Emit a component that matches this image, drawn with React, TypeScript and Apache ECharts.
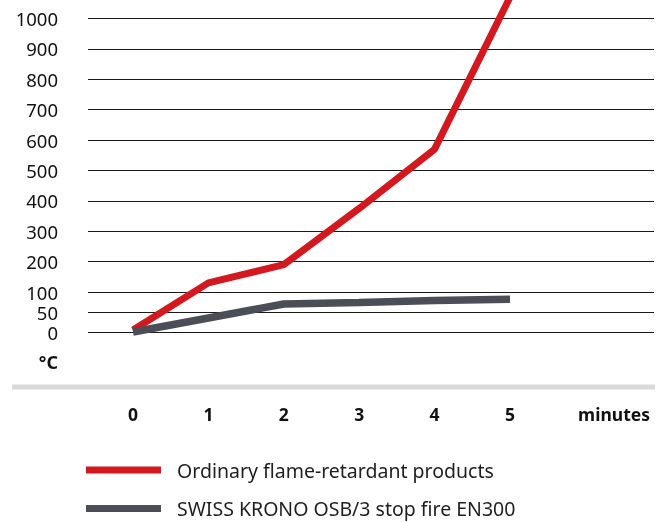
import React, { useEffect, useRef } from "react";
import * as echarts from "echarts";

const minutes = [0, 1, 2, 3, 4, 5];
const ordinary = [5, 130, 190, 375, 570, 1070];
const swissKrono = [0, 35, 70, 74, 79, 82];
const yTickValues = [0, 50, 100, 200, 300, 400, 500, 600, 700, 800, 900, 1000];
const xTickValues = [0, 1, 2, 3, 4, 5];
const seriesNames = ["Ordinary flame-retardant products", "SWISS KRONO OSB/3 stop fire EN300"];
const unitLabel = "°C";
const xAxisTitle = "minutes";

// piecewise temperature scale: 0–100 is stretched compared with 100–1000
const toAxis = (v: number) => (v <= 100 ? v * 0.4 : 40 + (v - 100) * 0.30389);

const FONT = "'Noto Sans', sans-serif";
const UNIT_POS = -29.5;
const TITLE_POS = 6.38;

const legendItem = (top: number, name: string) => ({
  orient: "vertical",
  left: 81,
  top,
  itemWidth: 75,
  itemHeight: 7,
  icon: "rect",
  selectedMode: false,
  textStyle: {
    fontFamily: FONT,
    fontSize: 19.5,
    lineHeight: 20,
    color: "#1e1e1e",
    padding: [0, 0, 0, 11],
  },
  data: [name],
});

export default function App() {
  const ref = useRef<HTMLDivElement>(null);
  useEffect(() => {
    if (!ref.current) return;
    const chart = echarts.init(ref.current, undefined, { renderer: "svg" });
    const yCustom = yTickValues.map(toAxis);
    chart.setOption({
      animation: false,
      grid: { left: 88, right: 14, top: 0, bottom: 136, outerBoundsMode: "none" },
      graphic: [
        {
          type: "rect",
          shape: { x: 12, y: 384.5, width: 643, height: 5 },
          style: { fill: "#d9d9d9" },
          silent: true,
        },
      ],
      legend: [legendItem(455, seriesNames[0]), legendItem(493.5, seriesNames[1])],
      xAxis: {
        type: "value",
        min: -0.597,
        max: 6.91,
        axisLine: { show: false },
        axisTick: { show: false },
        splitLine: { show: false },
        axisLabel: {
          customValues: [...xTickValues, TITLE_POS],
          formatter: (v: number) => (v > 5.5 ? xAxisTitle : String(v)),
          margin: 19,
          fontFamily: FONT,
          fontWeight: "bold",
          fontSize: 17.5,
          color: "#111",
        },
      },
      yAxis: {
        type: "value",
        min: -54,
        max: 332,
        axisLine: { show: false },
        axisTick: { show: false, customValues: yCustom },
        splitLine: { show: true, lineStyle: { color: "#1a1a1a", width: 1 } },
        axisLabel: {
          customValues: [UNIT_POS, ...yCustom],
          formatter: (v: number) => {
            if (v < 0) return "{u|" + unitLabel + "}";
            let best = 0;
            let bd = Infinity;
            yTickValues.forEach((t) => {
              const d = Math.abs(toAxis(t) - v);
              if (d < bd) {
                bd = d;
                best = t;
              }
            });
            return String(best);
          },
          margin: 30,
          fontFamily: FONT,
          fontSize: 18.5,
          lineHeight: 18,
          color: "#111",
          rich: {
            u: { fontFamily: FONT, fontSize: 18, fontWeight: "bold", color: "#111" },
          },
        },
      },
      series: [
        {
          name: seriesNames[0],
          type: "line",
          data: minutes.map((m, i) => [m, toAxis(ordinary[i])]),
          symbol: "none",
          color: "#d2191f",
          lineStyle: { width: 7, cap: "butt", join: "bevel" },
          emphasis: { disabled: true },
          silent: true,
          clip: true,
        },
        {
          name: seriesNames[1],
          type: "line",
          data: minutes.map((m, i) => [m, toAxis(swissKrono[i])]),
          symbol: "none",
          color: "#4b4e56",
          lineStyle: { width: 7.5, cap: "butt", join: "bevel" },
          emphasis: { disabled: true },
          silent: true,
          clip: true,
        },
      ],
    });
    return () => chart.dispose();
  }, []);
  return (
    <div
      ref={ref}
      style={{ position: "fixed", left: 0, top: 0, width: 668, height: 522 }}
    />
  );
}
